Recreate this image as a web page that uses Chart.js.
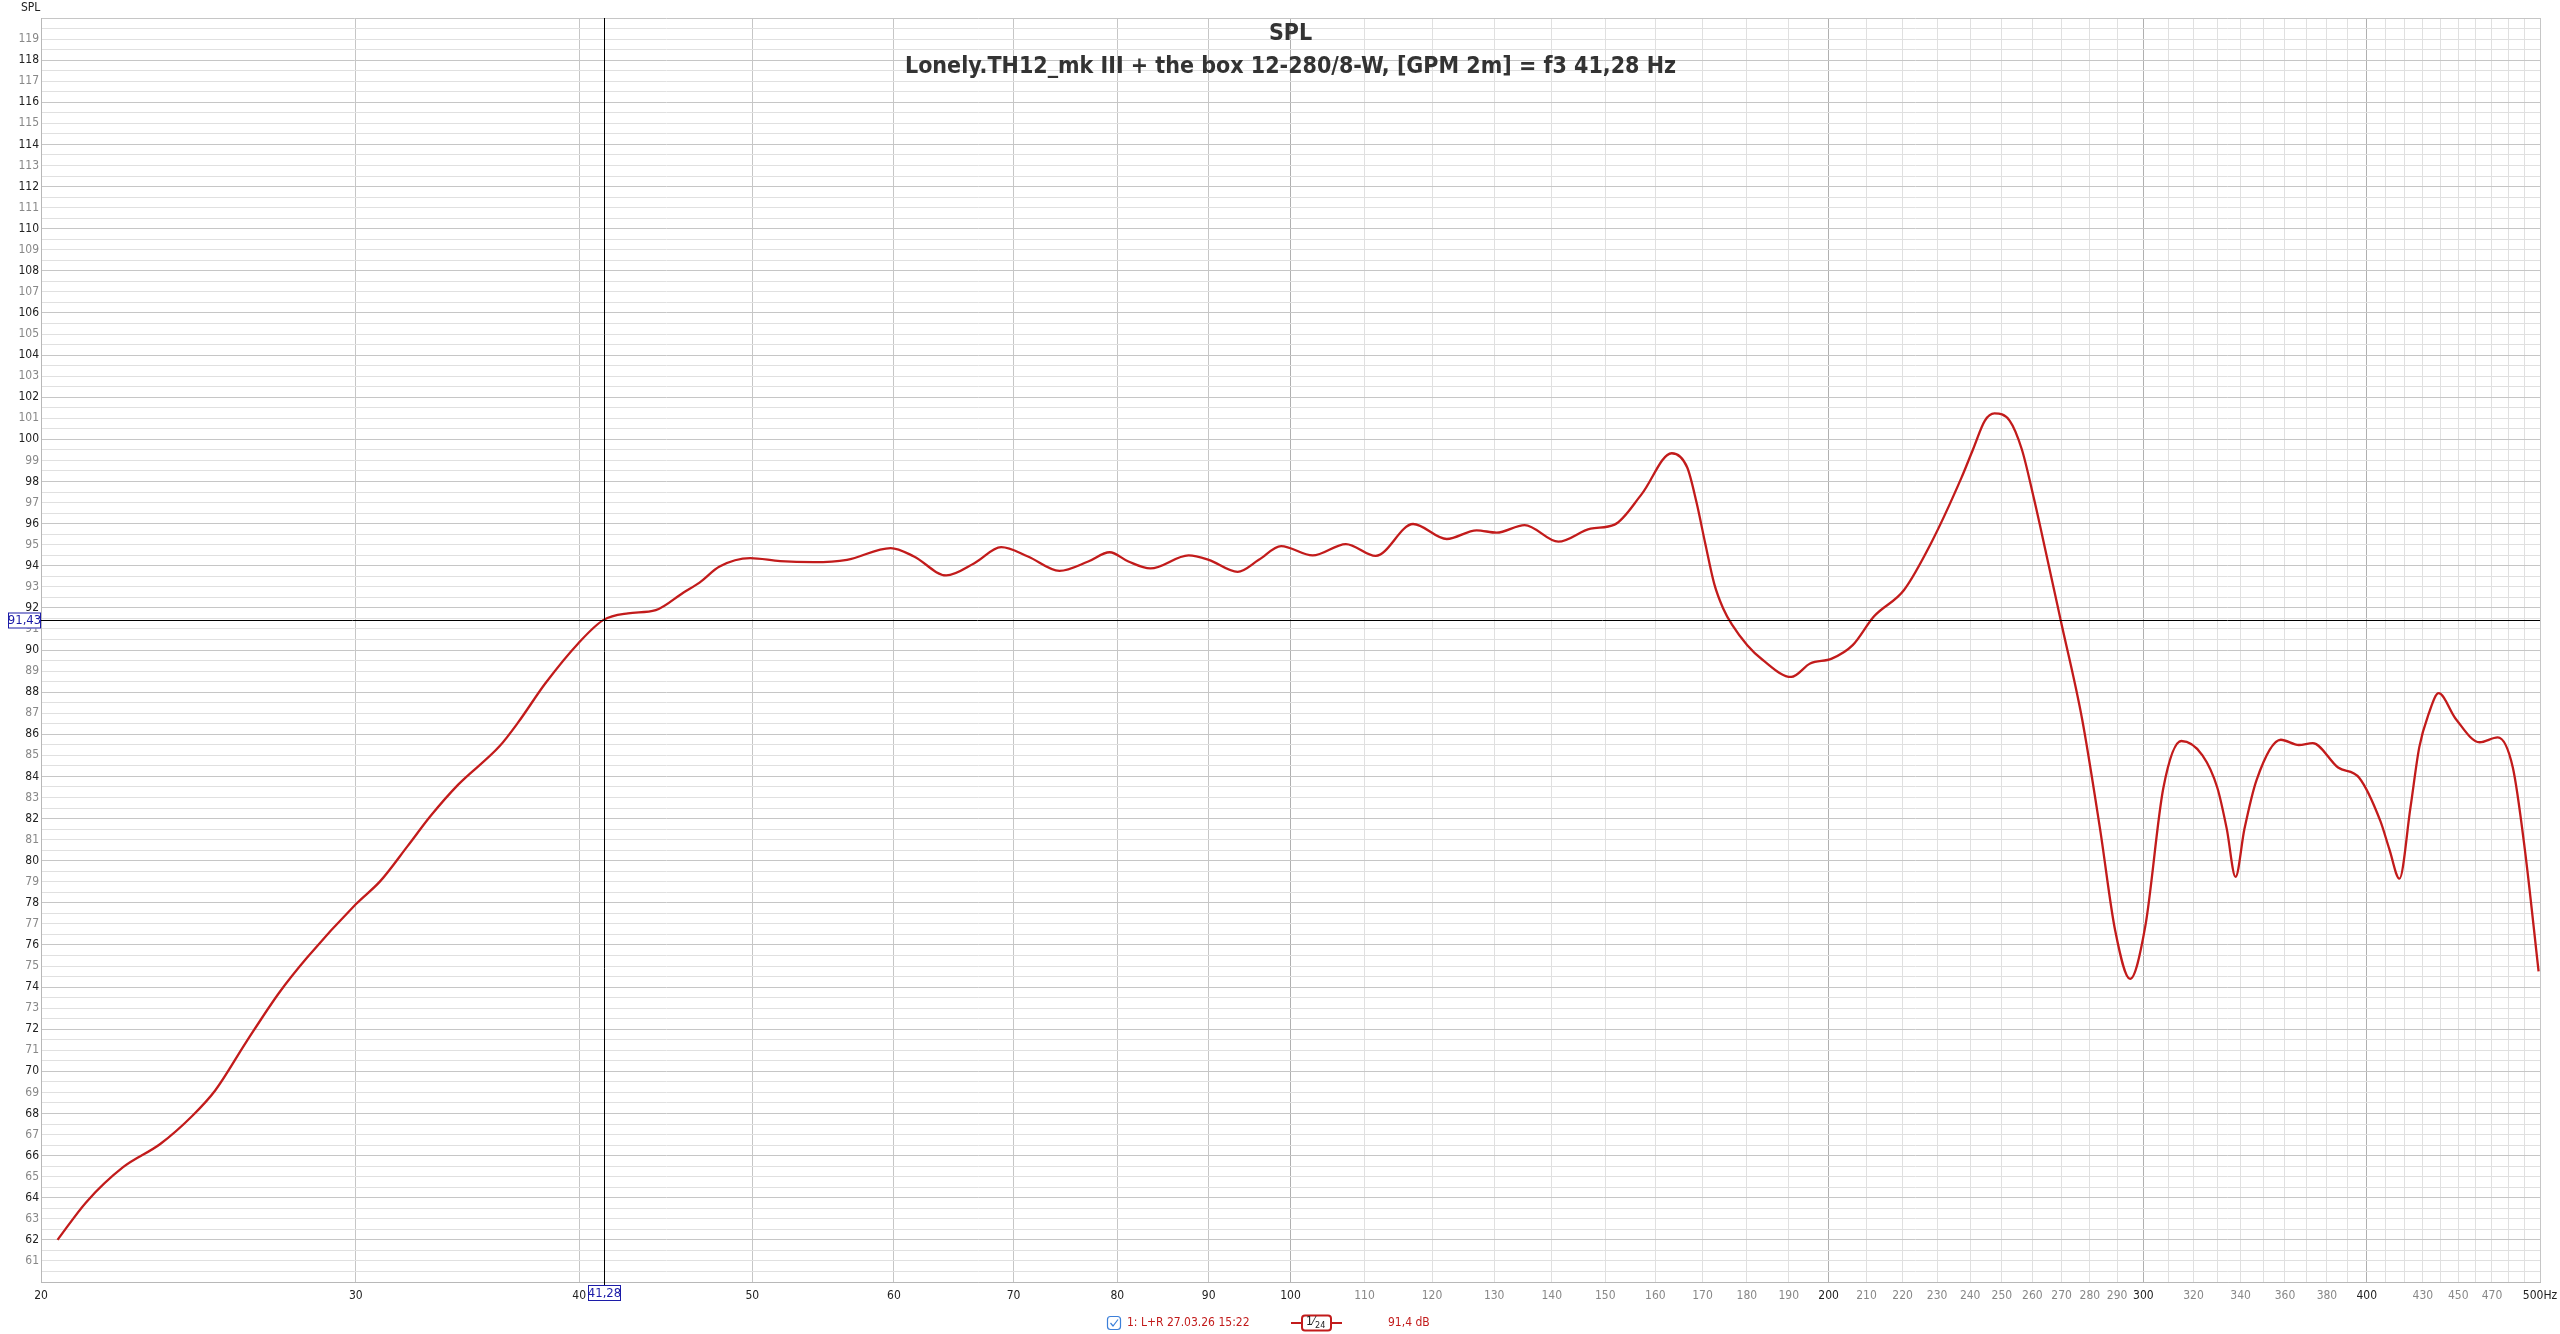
<!DOCTYPE html>
<html><head><meta charset="utf-8">
<script src="https://cdn.jsdelivr.net/npm/chart.js@4/dist/chart.umd.min.js"></script>
<style>html,body{margin:0;padding:0;background:#fff;overflow:hidden}#wrap{position:relative;width:2560px;height:1334px}canvas{display:block}</style>
</head><body><div id="wrap"><canvas id="c" width="2560" height="1334"></canvas></div>
<script>
// ---- data ----
const freqHz = [20.43,21.2,22.23,23.32,24.30,25.03,26.06,27.18,28.17,30.0,30.97,32.07,33.04,34.23,36.11,36.97,38.30,39.94,41.28,42.6,44.15,45.76,46.71,47.93,49.86,51.82,54.10,56.48,59.75,61.57,64.18,66.55,68.89,71.31,74.26,77.06,79.22,81.16,83.49,87.70,90.0,93.42,96.0,98.8,102.9,107.4,111.6,117.1,122.3,127.1,130.4,135.2,141.2,147.2,151.8,157.2,163.4,166.7,168.7,170.6,172.6,174.6,176.6,180.1,183.6,190.6,195.3,200.8,206.3,212.0,220.4,228.2,237.3,240.9,244.6,247.6,252.5,256.5,260.5,264.5,269.7,277.2,283.7,289.3,294.9,300.7,307.8,315.0,323.7,330.0,334.0,337.8,341.7,347.1,358.1,366.5,373.1,385.5,396.1,407.0,411.8,417.2,423.1,428.0,433.1,438.8,448.5,462.6,473.5,482.8,490.3,499.1];
const splDb = [62.0,63.79,65.45,66.55,67.88,69.09,71.41,73.73,75.39,77.93,79.04,80.69,82.13,83.61,85.44,86.55,88.42,90.30,91.43,91.74,91.89,92.73,93.20,93.96,94.36,94.22,94.17,94.28,94.84,94.44,93.54,94.12,94.88,94.44,93.76,94.20,94.64,94.20,93.87,94.49,94.28,93.71,94.28,94.93,94.49,95.03,94.47,95.98,95.27,95.68,95.57,95.93,95.14,95.76,95.95,97.40,99.34,98.66,97.01,95.07,93.14,91.97,91.20,90.23,89.55,88.72,89.36,89.59,90.23,91.59,92.85,95.07,98.17,99.53,100.89,101.23,100.89,99.53,97.21,94.69,91.40,86.74,81.51,76.67,74.39,76.87,83.45,85.68,85.00,83.45,81.51,79.23,81.51,83.84,85.74,85.49,85.58,84.42,83.94,81.90,80.55,79.15,82.48,85.39,86.94,87.95,86.74,85.62,85.85,84.42,80.55,74.74];
const xGridHz = [20,30,40,50,60,70,80,90,100,110,120,130,140,150,160,170,180,190,200,210,220,230,240,250,260,270,280,290,300,310,320,330,340,350,360,370,380,390,400,410,420,430,440,450,460,470,480,490,500];
const xLabelHz = [20,30,40,50,60,70,80,90,100,110,120,130,140,150,160,170,180,190,200,210,220,230,240,250,260,270,280,290,300,320,340,360,380,400,430,450,470,500];
const xMajorHz = [20,30,40,50,60,70,80,90,100,200,300,400,500];
const yMinDb = 60, yMaxDb = 120, yStepDb = 0.5;
const cursorHz = 41.28, cursorDb = 91.43;
const cursorHzText = '41,28', cursorDbText = '91,43';
const titleMain = 'SPL';
const titleSub = 'Lonely.TH12_mk III + the box 12-280/8-W, [GPM 2m] = f3 41,28 Hz';
const legendName = '1: L+R 27.03.26 15:22';
const legendValue = '91,4 dB';

// ---- rendering ----
const FONT = '"Liberation Sans Narrow","DejaVu Sans Condensed","Liberation Sans",sans-serif';
const RED = '#c21b1b';
const yGrid = [];
for (let v = yMinDb; v <= yMaxDb + 1e-9; v += yStepDb) yGrid.push(Math.round(v*10)/10);

const overlay = {
  id: 'overlay',
  afterDraw(chart) {
    const {ctx, chartArea: a, scales: {x, y}} = chart;
    const cx = Math.round(x.getPixelForValue(cursorHz)) + 0.5;
    const cy = Math.round(y.getPixelForValue(cursorDb)) + 0.5;
    ctx.save();
    ctx.strokeStyle = '#000'; ctx.lineWidth = 1;
    ctx.beginPath(); ctx.moveTo(cx, a.top); ctx.lineTo(cx, a.bottom + 3); ctx.stroke();
    ctx.beginPath(); ctx.moveTo(a.left - 1, cy); ctx.lineTo(a.right, cy); ctx.stroke();
    ctx.font = '13px ' + FONT; ctx.textBaseline = 'middle'; ctx.textAlign = 'center';
    ctx.fillStyle = '#fff'; ctx.fillRect(8, cy - 8, 32, 16);
    ctx.strokeStyle = '#1c1ca8'; ctx.strokeRect(8.5, cy - 7.5, 32, 15);
    ctx.fillStyle = '#1c1ca8'; ctx.fillText(cursorDbText, 24.5, cy + 0.5);
    const bx = cx - 16;
    ctx.fillStyle = '#fff'; ctx.fillRect(bx, a.bottom + 3, 32, 16);
    ctx.strokeStyle = '#1c1ca8'; ctx.strokeRect(bx, a.bottom + 3.5, 32, 15);
    ctx.fillStyle = '#1c1ca8'; ctx.fillText(cursorHzText, cx, a.bottom + 11.5);
    const mid = (a.left + a.right) / 2;
    ctx.fillStyle = '#333';
    ctx.font = 'bold 23px ' + FONT;
    ctx.fillText(titleMain, mid, 34);
    ctx.fillText(titleSub, mid, 67);
    ctx.font = '12px ' + FONT; ctx.textAlign = 'left'; ctx.fillStyle = '#222';
    ctx.fillText('SPL', 21, 8);
    const ly = 1323;
    ctx.strokeStyle = '#3b7fd9'; ctx.lineWidth = 1.2; ctx.fillStyle = '#fff';
    ctx.beginPath(); ctx.roundRect(1107.5, ly - 6.5, 13, 13, 3); ctx.fill(); ctx.stroke();
    ctx.beginPath(); ctx.moveTo(1110.5, ly); ctx.lineTo(1113, ly + 3); ctx.lineTo(1118, ly - 3.5); ctx.stroke();
    ctx.fillStyle = RED; ctx.font = '12px ' + FONT; ctx.textAlign = 'left';
    ctx.fillText(legendName, 1127, ly);
    ctx.fillText(legendValue, 1388, ly);
    ctx.strokeStyle = RED; ctx.lineWidth = 2;
    ctx.beginPath(); ctx.moveTo(1291, ly); ctx.lineTo(1342, ly); ctx.stroke();
    ctx.fillStyle = '#fff';
    ctx.beginPath(); ctx.roundRect(1302, ly - 7.5, 29, 15, 3); ctx.fill(); ctx.stroke();
    ctx.fillStyle = '#222'; ctx.font = '12px ' + FONT; ctx.textAlign = 'left';
    ctx.fillText('1⁄', 1306, ly - 1);
    ctx.font = '9px ' + FONT; ctx.fillText('24', 1315, ly + 2.5);
    ctx.restore();
  }
};

const isMajorX = v => xMajorHz.includes(Math.round(v));
new Chart(document.getElementById('c').getContext('2d'), {
  type: 'line',
  data: { datasets: [{
    label: legendName,
    data: freqHz.map((f, i) => ({x: f, y: splDb[i]})),
    borderColor: RED, borderWidth: 2.3, pointRadius: 0, fill: false,
    cubicInterpolationMode: 'monotone'
  }]},
  options: {
    responsive: false, animation: false, devicePixelRatio: 1,
    layout: { padding: { left: 0, right: 20, top: 18, bottom: 0 } },
    plugins: { legend: { display: false }, tooltip: { enabled: false }, title: { display: false } },
    scales: {
      x: {
        type: 'logarithmic', min: 20, max: 500,
        afterBuildTicks: s => { s.ticks = xGridHz.map(v => ({value: v})); },
        afterFit: s => { s.height = 52; s.paddingLeft = 0; s.paddingRight = 0; },
        border: { display: true, color: '#b8b8b8' },
        grid: { drawTicks: false, lineWidth: 1,
          color: c => { const v = Math.round(c.tick ? c.tick.value : 0); return (v === 100 || v === 200 || v === 300 || v === 400) ? '#b0b0b0' : (isMajorX(v) ? '#c6c6c6' : '#e0e0e0'); } },
        ticks: { autoSkip: false, maxRotation: 0, minRotation: 0, padding: 7,
          font: { family: FONT, size: 12 },
          color: c => isMajorX(c.tick ? c.tick.value : 0) ? '#222' : '#888',
          callback: v => { const r = Math.round(v); if (!xLabelHz.includes(r)) return ''; return r === 500 ? '500Hz' : String(r); } }
      },
      y: {
        type: 'linear', min: yMinDb, max: yMaxDb,
        afterBuildTicks: s => { s.ticks = yGrid.map(v => ({value: v})); },
        afterFit: s => { s.width = 41; s.paddingTop = 0; s.paddingBottom = 0; },
        border: { display: true, color: '#b8b8b8' },
        grid: { drawTicks: false, lineWidth: 1,
          color: c => { const v = c.tick ? c.tick.value : 0; return (Number.isInteger(v) && v % 2 === 0) ? '#c6c6c6' : '#e0e0e0'; } },
        ticks: { autoSkip: false, padding: 2, font: { family: FONT, size: 12 },
          color: c => { const v = c.tick ? c.tick.value : 0; return (Number.isInteger(v) && v % 2 === 0) ? '#222' : '#888'; },
          callback: v => (Number.isInteger(v) && v > yMinDb && v < yMaxDb) ? String(v) : '' }
      }
    }
  },
  plugins: [overlay]
});
</script></body></html>
